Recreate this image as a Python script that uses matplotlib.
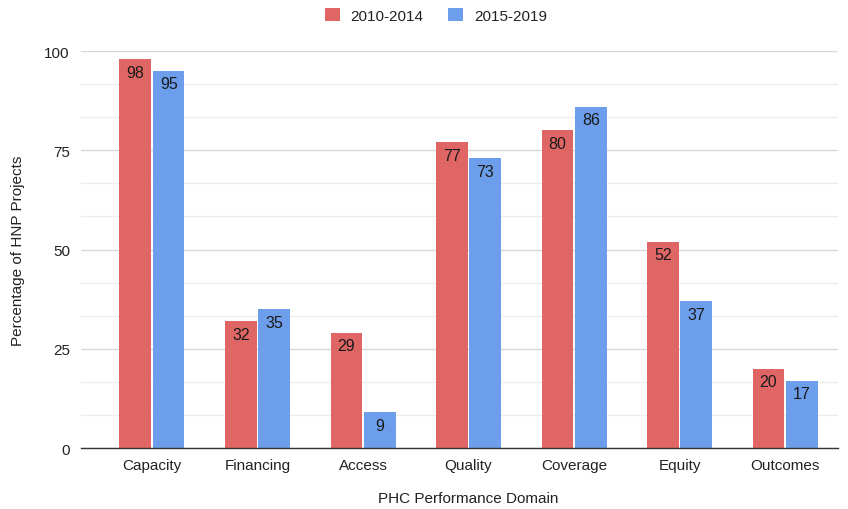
import matplotlib
matplotlib.use("Agg")
import matplotlib.pyplot as plt
import numpy as np
from matplotlib.patches import Patch

plt.rcParams['font.family'] = ['Liberation Sans', 'DejaVu Sans']

categories = ["Capacity", "Financing", "Access", "Quality", "Coverage", "Equity", "Outcomes"]
series_names = ["2010-2014", "2015-2019"]
values_2010_2014 = [98, 32, 29, 77, 80, 52, 20]
values_2015_2019 = [95, 35, 9, 73, 86, 37, 17]
y_ticks = [0, 25, 50, 75, 100]

red = "#E06666"
blue = "#6D9EEB"
fs = 11

fig = plt.figure(figsize=(8.48, 5.10), dpi=100)
ax = fig.add_axes([0.0955, 0.1196, 0.8925, 0.7784])

x = np.arange(len(categories))
w = 0.30
off = 0.158

for vals, dx, col in [(values_2010_2014, -off, red), (values_2015_2019, off, blue)]:
    bars = ax.bar(x + dx, vals, width=w, color=col, zorder=3)
    for b, v in zip(bars, vals):
        ax.annotate(str(v), (b.get_x() + b.get_width() / 2, v),
                    xytext=(0, -4), textcoords="offset points",
                    ha="center", va="top", fontsize=fs + 0.5, color="#1a1a1a", zorder=4)

ax.set_xlim(-0.673, 6.5)
ax.set_ylim(0, 100)
ax.set_yticks(y_ticks)
ax.set_yticks(np.arange(0, 100.01, 25 / 3), minor=True)
ax.grid(axis='y', which='major', color="#d9d9d9", linewidth=1.0, zorder=0)
ax.grid(axis='y', which='minor', color="#ececec", linewidth=0.9, zorder=0)
ax.tick_params(axis='y', which='both', length=0, labelsize=fs, labelcolor="#222222", pad=8)
ax.tick_params(axis='x', length=0, labelsize=fs, labelcolor="#222222", pad=7)
ax.set_xticks(x)
ax.set_xticklabels(categories)

for s in ['top', 'right', 'left']:
    ax.spines[s].set_visible(False)
ax.spines['bottom'].set_color("#333333")
ax.spines['bottom'].set_linewidth(1.0)
ax.spines['bottom'].set_zorder(5)

ax.set_ylabel("Percentage of HNP Projects", fontsize=fs, color="#222222", labelpad=14)
ax.set_xlabel("PHC Performance Domain", fontsize=fs, color="#222222", va="center")
ax.xaxis.set_label_coords(0.512, -0.126)

handles = [Patch(facecolor=red, edgecolor='none'), Patch(facecolor=blue, edgecolor='none')]
fig.legend(handles, series_names, loc='center', bbox_to_anchor=(0.514, 0.968), ncol=2,
           frameon=False, fontsize=fs, handlelength=1.0, handleheight=1.0,
           handletextpad=0.7, columnspacing=1.6, labelcolor="#222222")

fig.savefig("out.png", dpi=100)
